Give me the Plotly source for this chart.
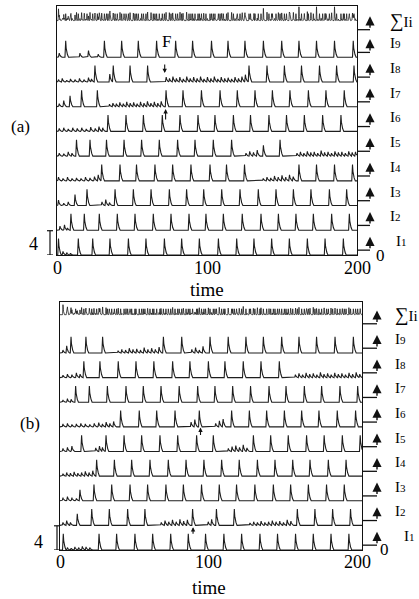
import numpy as np
import plotly.graph_objects as go

W, H = 419, 599

# ---------------- data: spike times ----------------
# panel (a)
a_I9_big = [5.8, 31.6, 43.1, 54.2, 66.4, 79.1, 90.4, 103.0, 114.0, 125.3, 137.6, 149.8, 161.3, 173.0, 185.0, 197.5]
a_I9_small = [(1.5, 0.7), (15.3, 0.7), (21.0, 1.1), (27.5, 0.5)]
a_I8_big = [25.3, 37.5, 48.7, 60.4, 128.0, 140.0, 151.6, 163.0, 175.0, 186.4, 198.0]
a_I8_small = [(1.0, 0.4), (3.5, 0.6), (6.5, 0.3), (9.0, 0.5), (12.0, 0.4), (15.0, 0.6), (18.0, 0.4), (21.0, 0.7),
              (23.0, 0.5), (35.2, 1.3), (72.8, 0.8), (75.0, 0.6), (77.3, 0.9), (79.6, 0.6), (81.9, 0.8), (84.2, 0.5),
              (86.5, 0.9), (88.8, 0.6), (91.1, 0.8), (93.4, 0.6), (95.7, 0.9), (98.0, 0.5), (100.3, 0.8), (102.6, 0.6),
              (104.9, 0.9), (107.2, 0.5), (109.5, 0.8), (111.8, 0.6), (114.1, 0.7), (116.4, 0.5), (118.7, 0.8),
              (121.0, 0.6), (123.3, 0.9), (125.6, 1.2)]
a_I7_big = [16.4, 26.9, 72.7, 84.0, 96.3, 108.7, 120.2, 132.0, 143.6, 155.3, 167.6, 179.3, 191.5]
a_I7_small = [(1.5, 0.5), (4.5, 1.0), (8.7, 1.8), (35.0, 0.4), (37.3, 0.6), (39.6, 0.5), (41.9, 0.7), (44.2, 0.5),
              (46.5, 0.8), (48.8, 0.6), (51.1, 0.7), (53.4, 0.5), (55.7, 0.8), (58.0, 0.6), (60.3, 0.9), (62.6, 0.6),
              (64.9, 0.8), (67.2, 0.6), (69.5, 0.9)]
a_I6_big = [34.0, 46.0, 57.6, 70.2, 82.0, 94.0, 105.3, 117.6, 129.0, 141.3, 153.0, 164.9, 177.1, 189.3]
a_I6_small = [(1.5, 0.5), (4.5, 0.6), (7.5, 0.4), (10.5, 0.6), (13.5, 0.5), (16.5, 0.6), (19.5, 0.4), (22.5, 0.7),
              (25.5, 0.5), (28.0, 0.8), (30.5, 0.6)]
a_I5_big = [13.0, 22.0, 33.0, 44.7, 56.4, 68.2, 80.4, 92.0, 104.2, 116.4, 148.7]
a_I5_small = [(1.5, 0.5), (4.5, 0.4), (7.5, 0.7), (10.0, 0.5), (126.0, 0.5), (128.5, 0.8), (131.0, 0.6), (133.5, 1.0),
              (137.6, 1.8), (160.0, 0.5), (162.3, 0.7), (164.6, 0.5), (166.9, 0.8), (169.2, 0.6), (171.5, 0.7),
              (173.8, 0.5), (176.1, 0.9), (178.4, 0.6), (180.7, 0.7), (183.0, 0.5), (185.3, 0.8), (187.6, 0.6),
              (189.9, 0.7), (192.2, 0.5), (194.5, 0.8), (196.8, 0.6), (199.0, 0.7)]
a_I4_big = [29.8, 42.0, 53.0, 65.3, 77.1, 89.3, 102.0, 113.0, 125.0, 161.3, 173.0, 185.0, 197.0]
a_I4_small = [(1.0, 0.6), (4.0, 0.4), (7.0, 0.6), (10.0, 0.4), (13.0, 0.5), (16.0, 0.4), (19.0, 0.6), (22.0, 0.5),
              (25.0, 0.7), (27.5, 1.0), (137.5, 0.4), (140.0, 0.6), (142.5, 0.5), (145.0, 0.8), (147.5, 0.6),
              (150.0, 0.9), (152.5, 0.6), (155.0, 1.0), (157.5, 0.7)]
a_I3_big = [20.0, 38.7, 50.9, 62.7, 74.9, 86.4, 97.8, 109.8, 122.0, 134.2, 146.0, 157.6, 169.3, 181.6, 193.1]
a_I3_small = [(1.0, 0.9), (4.5, 0.4), (7.5, 0.6), (12.0, 1.8), (30.0, 0.6), (32.5, 1.0), (35.0, 0.5)]
a_I2_big = [9.3, 18.2, 28.2, 40.2, 52.0, 64.2, 76.0, 88.0, 99.3, 110.9, 123.5, 136.0, 147.6, 159.3, 170.9, 183.1, 194.9]
a_I2_small = [(2.0, 0.7), (5.0, 0.9), (7.0, 0.4)]
a_I1_big = [1.0, 14.2, 23.8, 35.3, 47.6, 59.3, 71.6, 83.1, 94.9, 107.6, 119.8, 131.3, 143.1, 154.9, 166.9, 178.7, 190.9]
a_I1_small = [(4.0, 0.6), (6.5, 0.4), (9.0, 0.3)]

# panel (b)
b_I9_big = [7.4, 17.4, 28.6, 69.4, 81.7, 100.7, 112.9, 124.8, 136.5, 148.8, 160.4, 172.2, 184.6, 196.9]
b_I9_small = [(2.0, 0.5), (4.5, 1.2), (39.0, 0.4), (41.5, 0.6), (44.0, 0.5), (46.5, 0.8), (49.0, 0.6), (51.5, 0.7),
              (54.0, 0.5), (56.5, 0.9), (59.0, 0.6), (61.5, 0.8), (64.0, 0.6), (66.5, 1.0), (88.5, 0.6), (91.0, 0.9),
              (93.5, 0.5), (96.0, 1.1)]
b_I8_big = [16.0, 26.8, 39.1, 51.0, 63.0, 75.6, 87.2, 99.6, 110.7, 123.0, 134.9, 147.2]
b_I8_small = [(2.0, 0.4), (5.0, 0.6), (8.0, 0.5), (11.0, 0.8), (13.5, 0.6), (158.0, 0.5), (160.4, 0.7), (162.8, 0.5),
              (165.2, 0.8), (167.6, 0.6), (170.0, 0.7), (172.4, 0.5), (174.8, 0.9), (177.2, 0.6), (179.6, 0.7),
              (182.0, 0.5), (184.4, 0.8), (186.8, 0.6), (189.2, 0.7), (191.6, 0.5), (194.0, 0.8), (196.4, 0.6),
              (198.8, 0.9), (201.2, 0.6)]
b_I7_big = [10.5, 19.7, 31.8, 44.3, 55.9, 67.8, 80.0, 92.4, 104.0, 115.9, 127.9, 140.3, 151.7, 164.0, 175.6, 187.9, 199.8]
b_I7_small = [(2.0, 0.4), (5.0, 0.6), (7.5, 0.5)]
b_I6_big = [40.7, 53.2, 64.9, 77.2, 93.5, 115.2, 127.1, 138.7, 150.6, 162.2, 173.8, 186.1, 198.4]
b_I6_small = [(2.0, 0.5), (5.0, 0.6), (8.0, 0.4), (11.0, 0.5), (14.0, 0.6), (17.0, 0.5), (20.0, 0.4), (23.0, 0.6),
              (26.0, 0.7), (28.5, 0.5), (31.0, 0.8), (33.5, 0.6), (36.0, 0.9), (88.0, 0.8), (90.5, 1.2), (104.5, 0.6),
              (107.0, 1.0), (109.5, 1.3)]
b_I5_big = [14.5, 30.9, 43.0, 54.8, 67.1, 79.0, 91.7, 102.9, 129.8, 141.4, 153.2, 165.5, 177.3, 189.5, 201.5]
b_I5_small = [(2.0, 0.5), (5.0, 0.7), (8.0, 0.9), (24.0, 0.6), (26.5, 0.9), (28.5, 0.7), (113.0, 0.5), (115.5, 0.8),
              (118.0, 1.0), (120.5, 0.7), (123.0, 1.1), (125.5, 0.6)]
b_I4_big = [24.6, 36.5, 48.1, 60.4, 72.7, 84.6, 96.6, 108.5, 120.3, 132.5, 144.3, 156.2, 167.8, 180.1, 192.0]
b_I4_small = [(2.0, 0.4), (4.5, 0.6), (7.0, 0.5), (9.5, 0.7), (12.0, 0.5), (14.5, 0.6), (17.0, 0.8), (19.5, 0.6),
              (22.0, 0.9)]
b_I3_big = [22.8, 34.7, 47.0, 58.8, 71.1, 82.8, 95.0, 106.9, 118.5, 130.8, 143.2, 154.8, 166.7, 178.9, 190.8]
b_I3_small = [(2.0, 0.5), (5.0, 0.7), (8.0, 0.5), (11.0, 0.4), (13.4, 1.8)]
b_I2_big = [21.3, 33.1, 45.4, 57.0, 89.0, 105.0, 117.0, 159.3, 171.1, 183.0, 195.0]
b_I2_small = [(2.0, 0.5), (4.5, 0.8), (7.0, 0.5), (11.6, 1.9), (68.0, 0.5), (70.5, 0.8), (73.0, 0.6), (75.5, 0.9),
              (78.0, 0.6), (80.5, 1.0), (83.0, 0.7), (85.5, 0.9), (99.5, 0.6), (101.8, 1.0), (127.5, 0.4),
              (130.0, 0.6), (132.5, 0.5), (135.0, 0.7), (137.5, 0.5), (140.0, 0.6), (142.5, 0.8), (145.0, 0.6),
              (147.5, 0.7), (150.0, 0.5), (152.5, 0.9), (155.0, 0.7)]
b_I1_big = [2.2, 26.2, 38.0, 50.3, 62.2, 74.3, 86.1, 97.7, 110.0, 121.9, 134.2, 146.0, 158.1, 170.0, 181.9, 193.9]
b_I1_small = [(5.0, 0.4), (7.5, 0.3), (10.0, 0.5), (12.5, 0.4), (15.0, 0.6), (17.5, 0.5), (20.0, 0.4)]

row_labels = ["I1", "I2", "I3", "I4", "I5", "I6", "I7", "I8", "I9"]
x_ticks = [0, 100, 200]
scale_bar = 4
marker_F = 73.0

a_big = [a_I1_big, a_I2_big, a_I3_big, a_I4_big, a_I5_big, a_I6_big, a_I7_big, a_I8_big, a_I9_big]
a_small = [a_I1_small, a_I2_small, a_I3_small, a_I4_small, a_I5_small, a_I6_small, a_I7_small, a_I8_small, a_I9_small]
b_big = [b_I1_big, b_I2_big, b_I3_big, b_I4_big, b_I5_big, b_I6_big, b_I7_big, b_I8_big, b_I9_big]
b_small = [b_I1_small, b_I2_small, b_I3_small, b_I4_small, b_I5_small, b_I6_small, b_I7_small, b_I8_small, b_I9_small]

# ---------------- drawing ----------------
SPIKE_H = 2.7
TPL_DT = np.array([-0.5, 0.0, 0.4, 0.9, 1.4])
TPL_H = np.array([0.0, 1.0, 0.42, 0.3, 0.0])
SIG_DT = np.array([-0.3, 0.0, 0.35])        # narrow pulse used for the summed trace
SIG_H = np.array([0.0, 1.0, 0.0])
ROW_STEP = 4.07
YMAX = 41.0
SERIF = "Liberation Serif"
INK = "#1e1e1e"


def wave(grid, big, small, dt=TPL_DT, shape=TPL_H, combine=np.maximum):
    y = np.zeros_like(grid)
    events = [(t, SPIKE_H) for t in big] + list(small)
    for t, h in events:
        y = combine(y, np.interp(grid, t + dt, h * shape, left=0.0, right=0.0))
    return y


def px(x):
    return x / W


def py(y):
    return 1 - y / H


def text_at(xp, yp, text, size, xanchor="center"):
    return dict(xref="paper", yref="paper", x=px(xp), y=py(yp), text=text, showarrow=False,
                xanchor=xanchor, yanchor="middle", font=dict(size=size, family=SERIF, color="black"))


panels = [
    dict(xa="x", ya="y", big=a_big, small=a_small, tmax=200.0, xl=57, xr=357, yt=6, yb=255,
         sig_off=38.6, sig_scale=0.42, arrow_x=370, label_x=388, bar_x=50, tag="(a)", tag_xy=(20, 126),
         four_xy=(33, 244), tick_y=268, time_xy=(207, 289), zero_xy=(380, 255), i1_dx=6),
    dict(xa="x2", ya="y2", big=b_big, small=b_small, tmax=202.7, xl=60, xr=362, yt=302, yb=550,
         sig_off=38.9, sig_scale=0.36, arrow_x=377, label_x=393, bar_x=57, tag="(b)", tag_xy=(30, 423),
         four_xy=(38, 542), tick_y=562, time_xy=(209, 587), zero_xy=(384, 549), i1_dx=9),
]

fig = go.Figure()
shapes = []
annotations = []
layout_axes = {}

for k, P in enumerate(panels):
    grid = np.arange(0.0, P["tmax"] + 1e-9, 0.05)
    total = np.zeros_like(grid)
    for i in range(9):
        w = wave(grid, P["big"][i], P["small"][i])
        total += wave(grid, P["big"][i], P["small"][i], SIG_DT, SIG_H, np.add)
        fig.add_trace(go.Scatter(x=grid, y=i * ROW_STEP + w, mode="lines",
                                 line=dict(color=INK, width=1.1), xaxis=P["xa"], yaxis=P["ya"],
                                 hoverinfo="skip"))
    fig.add_trace(go.Scatter(x=grid, y=P["sig_off"] + P["sig_scale"] * total, mode="lines",
                             line=dict(color=INK, width=0.8), xaxis=P["xa"], yaxis=P["ya"],
                             hoverinfo="skip"))

    xkey = "xaxis" if k == 0 else "xaxis2"
    ykey = "yaxis" if k == 0 else "yaxis2"
    layout_axes[xkey] = dict(domain=[px(P["xl"]), px(P["xr"])], range=[0, P["tmax"]], anchor=P["ya"],
                             showline=True, mirror=True, linecolor="#111", linewidth=1.2, ticks="",
                             showgrid=False, zeroline=False, showticklabels=False)
    layout_axes[ykey] = dict(domain=[py(P["yb"]), py(P["yt"])], range=[0, YMAX], anchor=P["xa"],
                             showline=True, mirror=True, linecolor="#111", linewidth=1.2, ticks="",
                             showgrid=False, zeroline=False, showticklabels=False)

    # tick labels placed on the axis scale
    for tv in x_ticks:
        annotations.append(dict(xref=P["xa"], yref="paper", x=tv, y=py(P["tick_y"]), text=str(tv),
                                showarrow=False, xanchor="center", yanchor="middle",
                                font=dict(size=18, family=SERIF, color="black")))

    # right-hand L arrows and labels
    rows = [(i * ROW_STEP + 0.8, "I<span style='font-size:11px'>%s</span>" % row_labels[i][1:],
             P["i1_dx"] if i == 0 else 0) for i in range(9)]
    rows.append((P["sig_off"] - 1.5, "<span style='font-size:19px'>∑</span>Ii", 0))
    for base, lab, dx in rows:
        shapes.append(dict(type="line", xref="paper", yref=P["ya"], x0=px(P["xr"]), x1=px(P["arrow_x"]),
                           y0=base, y1=base, line=dict(color="#111", width=1.3)))
        annotations.append(dict(xref="paper", yref=P["ya"], x=px(P["arrow_x"]), y=base + 2.2, text="",
                                showarrow=True, ax=0, ay=13, axref="pixel", ayref="pixel",
                                arrowhead=2, arrowsize=1.3, arrowwidth=1.4, arrowcolor="#111", standoff=0))
        annotations.append(dict(xref="paper", yref=P["ya"], x=px(P["label_x"] + dx), y=base + 1.5, text=lab,
                                showarrow=False, xanchor="left", yanchor="middle",
                                font=dict(size=15, family=SERIF, color="black")))

    # scale bar "4"
    bx = P["bar_x"]
    shapes.append(dict(type="line", xref="paper", yref=P["ya"], x0=px(bx), x1=px(bx), y0=0, y1=scale_bar,
                       line=dict(color="#111", width=1.2)))
    for yy in (0, scale_bar):
        shapes.append(dict(type="line", xref="paper", yref=P["ya"], x0=px(bx - 3), x1=px(bx + 3), y0=yy, y1=yy,
                           line=dict(color="#111", width=1.2)))
    annotations.append(text_at(P["four_xy"][0], P["four_xy"][1], str(scale_bar), 18))
    annotations.append(text_at(P["tag_xy"][0], P["tag_xy"][1], P["tag"], 17))
    annotations.append(text_at(P["time_xy"][0], P["time_xy"][1], "time", 19))
    annotations.append(text_at(P["zero_xy"][0], P["zero_xy"][1], "0", 17))

# small markers
annotations.append(dict(xref="x", yref="y", x=marker_F, y=35.2, text="F", showarrow=False,
                        xanchor="center", yanchor="middle", font=dict(size=17, family=SERIF, color="black")))
annotations.append(dict(xref="x", yref="y", x=71.8, y=8 * ROW_STEP - 3.2 + 0.6, text="", showarrow=True,
                        ax=0, ay=-10, arrowhead=2, arrowsize=0.8, arrowwidth=1.1, arrowcolor="#111", standoff=0))
annotations.append(dict(xref="x", yref="y", x=72.4, y=6 * ROW_STEP - 0.4, text="", showarrow=True,
                        ax=0, ay=12, arrowhead=2, arrowsize=0.8, arrowwidth=1.1, arrowcolor="#111", standoff=0))
annotations.append(dict(xref="x2", yref="y2", x=94.3, y=5 * ROW_STEP - 0.1, text="", showarrow=True,
                        ax=0, ay=9, arrowhead=2, arrowsize=0.8, arrowwidth=1.1, arrowcolor="#111", standoff=0))
annotations.append(dict(xref="x2", yref="y2", x=89.3, y=ROW_STEP - 0.3, text="", showarrow=True,
                        ax=0, ay=8, arrowhead=2, arrowsize=0.8, arrowwidth=1.1, arrowcolor="#111", standoff=0))

fig.update_layout(width=W, height=H, margin=dict(l=0, r=0, t=0, b=0), paper_bgcolor="white",
                  plot_bgcolor="white", showlegend=False, shapes=shapes, annotations=annotations,
                  font=dict(family=SERIF, color="black"), **layout_axes)

# the page body has a default margin; remove it so the figure fills the window exactly
fig.write_html("out.html", config={"displayModeBar": False},
               post_script="document.body.style.margin='0px';")
